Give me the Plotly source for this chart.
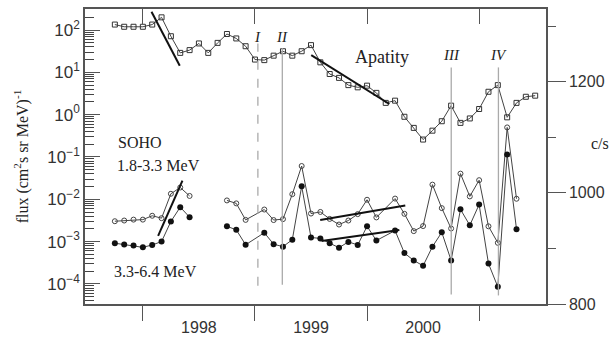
import plotly.graph_objects as go

# ---------------- data ----------------
START_YEAR = 1997.75          # first monthly point (Oct 1997)

# Apatity neutron monitor, c/s (months 0..45 from Oct 1997)
apatity_month = list(range(46))
apatity_cs = [1303, 1299, 1299, 1299, 1303, 1316, 1282, 1252, 1257, 1269,
              1252, 1270, 1286, 1278, 1264, 1240, 1239, 1247, 1255, 1247,
              1255, 1266, 1235, 1214, 1207, 1194, 1190, 1193, 1180, 1162,
              1166, 1137, 1117, 1096, 1112, 1129, 1157, 1126, 1134, 1151,
              1182, 1194, 1136, 1162, 1173, 1175]

# SOHO months (None = data gap, line broken)
soho_month = [0, 1, 2, 3, 4, 5, 6, 7, 8, None,
              12, 13, 14, 16, 17, 18, 19, 20, 21, 22, 23, 24, 25, 26, 27, 28,
              30, 31, 32, 33, 34, 35, 36, 37, 38, 39, 40, 41, 42, 43]
soho_low = [3.03e-3, 3.15e-3, 3.31e-3, 3.31e-3, 4.08e-3, 3.58e-3, 1.35e-2, 1.90e-2, 1.20e-2, None,
            9.4e-3, 8.0e-3, 3.26e-3, 5.73e-3, 3.23e-3, 3.40e-3, 1.32e-2, 6.12e-2, 4.60e-3, 5.02e-3,
            3.44e-3, 2.53e-3, 3.15e-3, 4.46e-3, 9.75e-3, 3.73e-3, 1.04e-2, 4.53e-3, 1.77e-3, 2.33e-3,
            2.22e-2, 6.19e-3, 2.04e-3, 4.04e-2, 1.17e-2, 2.83e-2, 2.30e-3, 9.35e-4, 0.50, 1.03e-2]
soho_high = [9.16e-4, 8.55e-4, 8.13e-4, 7.32e-4, 8.34e-4, 1.0e-3, 2.99e-3, 6.52e-3, 3.78e-3, None,
             2.30e-3, 1.90e-3, 8.41e-4, 1.62e-3, 8.69e-4, 7.59e-4, 1.11e-3, 2.03e-2, 1.25e-3, 1.19e-3,
             9.16e-4, 7.19e-4, 9.84e-4, 8.34e-4, 2.30e-3, 1.06e-3, 1.82e-3, 5.35e-4, 3.58e-4, 2.68e-4,
             7.59e-4, 1.66e-3, 3.58e-4, 5.78e-3, 2.43e-3, 7.52e-3, 3.02e-4, 8.51e-5, 0.115, 1.97e-3]

# fitted trend lines (start, end)
apatity_fit1_x = [1998.077, 1998.329]
apatity_fit1_y = [1326, 1229]
apatity_fit2_x = [1999.502, 2000.199]
apatity_fit2_y = [1248, 1160]
soho_fit1_x = [1998.136, 1998.353]
soho_fit1_y = [1.37e-3, 2.76e-2]
soho_fit_low_x = [1999.582, 2000.341]
soho_fit_low_y = [3.26e-3, 7.13e-3]
soho_fit_high_x = [1999.594, 2000.288]
soho_fit_high_y = [1.03e-3, 1.87e-3]

# events
event_x = [1999.026, 1999.244, 2000.751, 2001.172]
event_label = ["I", "II", "III", "IV"]

year_label_pos = [1998.5, 1999.5, 2000.5]
year_labels = ["1998", "1999", "2000"]
flux_decades = [1e-4, 1e-3, 1e-2, 1e-1, 1, 10, 100]
flux_decade_text = ["10<sup>−4</sup>", "10<sup>−3</sup>", "10<sup>−2</sup>", "10<sup>−1</sup>",
                    "10<sup>0</sup>", "10<sup>1</sup>", "10<sup>2</sup>"]
flux_minor = [d * k for d in [1e-5, 1e-4, 1e-3, 1e-2, 1e-1, 1, 10, 100] for k in range(2, 10)]

# ---------------- figure ----------------
def mx(m):
    return None if m is None else START_YEAR + m / 12.0

SERIF = "Liberation Serif, Times New Roman, serif"
SANS = "Liberation Sans, Arial, sans-serif"
LINE = "#444444"
AX = "#555555"
YR = [-4.475, 2.498]

all_ticks = flux_decades + flux_minor
all_text = flux_decade_text + [""] * len(flux_minor)

fig = go.Figure()

fig.add_trace(go.Scatter(
    x=[mx(m) for m in apatity_month], y=apatity_cs, yaxis="y2", mode="lines+markers",
    line=dict(color=LINE, width=1),
    marker=dict(symbol="square-open", size=5, color="#333333", line=dict(width=1)),
    showlegend=False))

fig.add_trace(go.Scatter(
    x=[mx(m) for m in soho_month], y=soho_low, mode="lines+markers", connectgaps=False,
    line=dict(color=LINE, width=1),
    marker=dict(symbol="circle-open", size=5, color="#444444", line=dict(width=1)),
    showlegend=False))

fig.add_trace(go.Scatter(
    x=[mx(m) for m in soho_month], y=soho_high, mode="lines+markers", connectgaps=False,
    line=dict(color=LINE, width=1),
    marker=dict(symbol="circle", size=6, color="#111111"),
    showlegend=False))

for fx, fy, ax in [(apatity_fit1_x, apatity_fit1_y, "y2"), (apatity_fit2_x, apatity_fit2_y, "y2"),
                   (soho_fit1_x, soho_fit1_y, "y"), (soho_fit_low_x, soho_fit_low_y, "y"),
                   (soho_fit_high_x, soho_fit_high_y, "y")]:
    fig.add_trace(go.Scatter(x=fx, y=fy, yaxis=ax, mode="lines",
                             line=dict(color="#111111", width=2), showlegend=False))

# event lines
ev_top = [0.883, 0.867, 0.802, 0.802]
ev_bot = [0.062, 0.065, 0.032, 0.029]
lab_y = [0.906, 0.906, 0.844, 0.844]
for i, ex in enumerate(event_x):
    fig.add_shape(type="line", xref="x", yref="paper", x0=ex, x1=ex, y0=ev_bot[i], y1=ev_top[i],
                  line=dict(color="#aaaaaa", width=1.3, dash="dash" if i == 0 else "solid"))
    fig.add_annotation(x=ex, y=lab_y[i], xref="x", yref="paper", text="<i>%s</i>" % event_label[i],
                       showarrow=False, font=dict(family=SERIF, size=15, color="#222222"),
                       xanchor="center", yanchor="middle")

texts = [
    ("Apatity", 0.645, 0.838, "center", 18),
    ("SOHO", 0.067, 0.549, "left", 16),
    ("1.8-3.3 MeV", 0.065, 0.468, "left", 16),
    ("3.3-6.4 MeV", 0.058, 0.110, "left", 16),
    ("c/s", 1.117, 0.545, "center", 16),
]
for t, x, y, anc, sz in texts:
    fig.add_annotation(x=x, y=y, xref="paper", yref="paper", text=t, showarrow=False,
                       xanchor=anc, yanchor="middle", font=dict(family=SERIF, size=sz, color="#222222"))

fig.add_annotation(x=-0.137, y=0.5, xref="paper", yref="paper",
                   text="flux (cm<sup>2</sup>s sr MeV)<sup>-1</sup>", textangle=-90, showarrow=False,
                   xanchor="center", yanchor="middle", font=dict(family=SERIF, size=16, color="#222222"))

xr = [1997.4837, 2001.5965]
fig.update_layout(
    width=614, height=345, margin=dict(l=85, r=67, t=9, b=28),
    paper_bgcolor="white", plot_bgcolor="white",
    xaxis=dict(range=xr, showgrid=False, zeroline=False, showline=True, linecolor=AX, linewidth=1.5,
               tickmode="array", tickvals=year_label_pos, ticktext=year_labels, ticks="", ticklen=0,
               ticklabelstandoff=8,
               tickfont=dict(family=SANS, size=16, color="#333333"),
               minor=dict(tick0=1998, dtick=1, ticks="outside", ticklen=15, tickcolor=AX, showgrid=False)),
    xaxis2=dict(range=xr, overlaying="x", side="top", showgrid=False, zeroline=False, showline=True,
                linecolor=AX, linewidth=1.5, tickmode="linear", tick0=1998, dtick=1, ticks="inside",
                ticklen=15, tickcolor=AX, showticklabels=False),
    yaxis=dict(type="log", range=YR, showgrid=False, zeroline=False, showline=True,
               linecolor=AX, linewidth=1.5, tickmode="array", tickvals=all_ticks, ticktext=all_text,
               ticks="inside", ticklen=9, tickwidth=1, tickcolor="#444444",
               tickfont=dict(family=SANS, size=17, color="#333333")),
    yaxis3=dict(type="log", range=YR, overlaying="y", side="left", anchor="x", showgrid=False,
                zeroline=False, showline=False, tickmode="array", tickvals=flux_decades,
                ticks="inside", ticklen=15, tickwidth=1.2, tickcolor=AX, showticklabels=False),
    yaxis2=dict(range=[800, 1331], overlaying="y", side="right", showgrid=False, zeroline=False,
                showline=True, linecolor=AX, linewidth=1.5, tickmode="linear", tick0=800, dtick=200,
                ticks="outside", ticklen=18, tickcolor=AX,
                tickfont=dict(family=SANS, size=16, color="#333333"),
                minor=dict(tick0=800, dtick=100, ticks="outside", ticklen=8, tickcolor=AX, showgrid=False)),
)
# dummy traces to activate the extra tick axes
fig.add_trace(go.Scatter(x=[xr[0]], y=[None], xaxis="x2", showlegend=False, hoverinfo="skip"))
fig.add_trace(go.Scatter(x=[None], y=[1.0], yaxis="y3", mode="markers", marker=dict(opacity=0),
                         showlegend=False, hoverinfo="skip"))

fig.write_html("out.html")
